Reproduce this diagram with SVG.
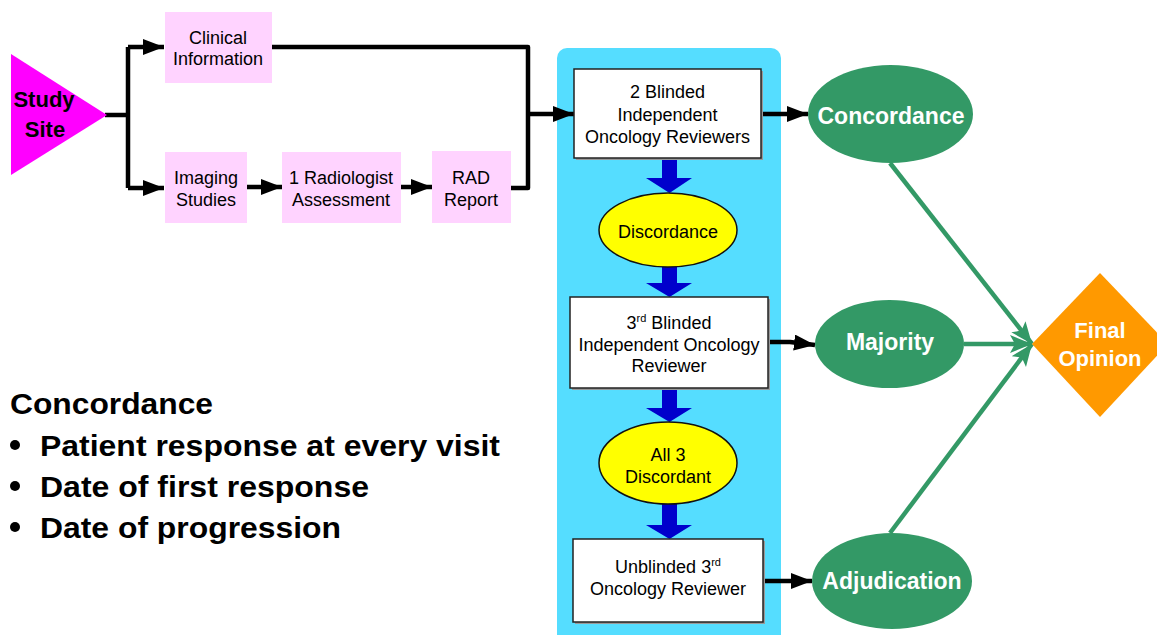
<svg xmlns="http://www.w3.org/2000/svg" width="1157" height="635" viewBox="0 0 1157 635">
<style>
.t{font-family:"Liberation Sans",Arial,sans-serif;font-size:18px;fill:#000;text-anchor:middle}
.w{font-family:"Liberation Sans",Arial,sans-serif;font-size:23px;font-weight:bold;fill:#fff;text-anchor:middle}
.b{font-family:"Liberation Sans",Arial,sans-serif;font-size:29px;font-weight:bold;fill:#000}
.pink{fill:#FFD3FF}
.box{fill:#fff;stroke:#222;stroke-width:1.5}
.shadow{fill:#999}
.green{fill:#339966}
.yel{fill:#FFFF00;stroke:#111;stroke-width:1.5}
.blk{fill:none;stroke:#000;stroke-width:4.5;stroke-linejoin:round}
.grn{fill:none;stroke:#339966;stroke-width:4.5}
.blue{fill:#0000CC}
</style>
<defs>
<marker id="ah" markerUnits="userSpaceOnUse" markerWidth="22" markerHeight="18" refX="21" refY="8" orient="auto">
<path d="M0,0 L21,8 L0,16 z" fill="#000"/>
</marker>
<marker id="gh" markerUnits="userSpaceOnUse" markerWidth="24" markerHeight="20" refX="22" refY="9" orient="auto">
<path d="M0,0 L22,9 L0,18 L5,9 z" fill="#339966"/>
</marker>
</defs>
<rect width="1157" height="635" fill="#fff"/>

<g id="panel"><rect x="557" y="48" width="224" height="600" rx="10" fill="#55DDFF"/></g>

<g id="connectors">
<polyline class="blk" points="105,115 128,115"/>
<polyline class="blk" points="128,47 128,188"/>
<line class="blk" x1="128" y1="47" x2="164" y2="47" marker-end="url(#ah)"/>
<line class="blk" x1="128" y1="188" x2="164" y2="188" marker-end="url(#ah)"/>
<line class="blk" x1="247" y1="187" x2="282" y2="187" marker-end="url(#ah)"/>
<line class="blk" x1="401" y1="187" x2="432" y2="187" marker-end="url(#ah)"/>
<polyline class="blk" points="272,47 528,47 528,188 511,188"/>
<line class="blk" x1="528" y1="114" x2="574" y2="114" marker-end="url(#ah)"/>
<line class="blk" x1="761" y1="114" x2="808" y2="114" marker-end="url(#ah)"/>
<polyline class="blk" points="768,342 790,342 815,345" marker-end="url(#ah)"/>
<line class="blk" x1="763" y1="581" x2="812" y2="581" marker-end="url(#ah)"/>
<line class="grn" x1="890" y1="163" x2="1032" y2="344" marker-end="url(#gh)"/>
<line class="grn" x1="964" y1="344" x2="1032" y2="344" marker-end="url(#gh)"/>
<line class="grn" x1="890" y1="533" x2="1032" y2="344" marker-end="url(#gh)"/>
<polygon class="blue" points="662,158 677,158 677,178 692,178 669.5,193 646,178 662,178"/>
<polygon class="blue" points="662,267 677,267 677,283 692,283 669.5,297 646,283 662,283"/>
<polygon class="blue" points="662,388 677,388 677,408 692,408 669.5,422 646,408 662,408"/>
<polygon class="blue" points="662,504 677,504 677,525 692,525 669.5,539 646,525 662,525"/>
</g>

<g id="study-site">
<polygon points="11,54 11,175 107,115" fill="#FF00FF"/>
<text class="t" x="44" y="107" style="font-size:22px;font-weight:bold">Study</text>
<text class="t" x="45" y="137" style="font-size:22px;font-weight:bold">Site</text>
</g>

<g id="clinical">
<rect class="pink" x="165" y="12" width="107" height="71"/>
<text class="t" x="218" y="44">Clinical</text>
<text class="t" x="218" y="65">Information</text>
</g>

<g id="imaging">
<rect class="pink" x="165" y="152" width="82" height="71"/>
<text class="t" x="206" y="184">Imaging</text>
<text class="t" x="206" y="206">Studies</text>
</g>

<g id="radiologist">
<rect class="pink" x="282" y="152" width="119" height="71"/>
<text class="t" x="341" y="184">1 Radiologist</text>
<text class="t" x="341" y="206">Assessment</text>
</g>

<g id="rad-report">
<rect class="pink" x="432" y="151" width="79" height="72"/>
<text class="t" x="471" y="184">RAD</text>
<text class="t" x="471" y="206">Report</text>
</g>

<g id="two-blinded">
<rect class="shadow" x="576" y="71" width="187" height="89"/>
<rect class="box" x="574" y="69" width="187" height="89"/>
<text class="t" x="667.5" y="98">2 Blinded</text>
<text class="t" x="667.5" y="121">Independent</text>
<text class="t" x="667.5" y="143">Oncology Reviewers</text>
</g>

<g id="discordance">
<ellipse class="yel" cx="668" cy="230" rx="69" ry="37"/>
<text class="t" x="668" y="238">Discordance</text>
</g>

<g id="third-blinded">
<rect class="shadow" x="572" y="299" width="198" height="91"/>
<rect class="box" x="570" y="297" width="198" height="91"/>
<text class="t" x="669" y="329">3<tspan dy="-7" style="font-size:11px">rd</tspan><tspan dy="7"> Blinded</tspan></text>
<text class="t" x="669" y="351">Independent Oncology</text>
<text class="t" x="669" y="372">Reviewer</text>
</g>

<g id="all3">
<ellipse class="yel" cx="668" cy="463" rx="69" ry="41"/>
<text class="t" x="668" y="461">All 3</text>
<text class="t" x="668" y="483">Discordant</text>
</g>

<g id="unblinded">
<rect class="shadow" x="575" y="541" width="190" height="83"/>
<rect class="box" x="573" y="539" width="190" height="83"/>
<text class="t" x="668" y="573">Unblinded 3<tspan dy="-7" style="font-size:11px">rd</tspan></text>
<text class="t" x="668" y="595">Oncology Reviewer</text>
</g>

<g id="concordance">
<ellipse class="green" cx="890.5" cy="114" rx="82.5" ry="49"/>
<text class="w" x="891" y="124">Concordance</text>
</g>

<g id="majority">
<ellipse class="green" cx="889.5" cy="344" rx="74.5" ry="44"/>
<text class="w" x="890" y="350">Majority</text>
</g>

<g id="adjudication">
<ellipse class="green" cx="892" cy="581" rx="80" ry="48"/>
<text class="w" x="892" y="589">Adjudication</text>
</g>

<g id="final-opinion">
<polygon points="1100,273 1168,344 1100,417 1032,344" fill="#FF9900"/>
<text class="w" x="1100" y="338" style="font-size:22px">Final</text>
<text class="w" x="1100" y="366" style="font-size:22px">Opinion</text>
</g>

<g id="notes">
<text class="b" x="10" y="414" textLength="203" lengthAdjust="spacingAndGlyphs">Concordance</text>
<circle cx="15" cy="445" r="5"/>
<text class="b" x="40" y="456" textLength="460" lengthAdjust="spacingAndGlyphs">Patient response at every visit</text>
<circle cx="15" cy="486" r="5"/>
<text class="b" x="40" y="497" textLength="329" lengthAdjust="spacingAndGlyphs">Date of first response</text>
<circle cx="15" cy="527" r="5"/>
<text class="b" x="40" y="538" textLength="301" lengthAdjust="spacingAndGlyphs">Date of progression</text>
</g>
</svg>
